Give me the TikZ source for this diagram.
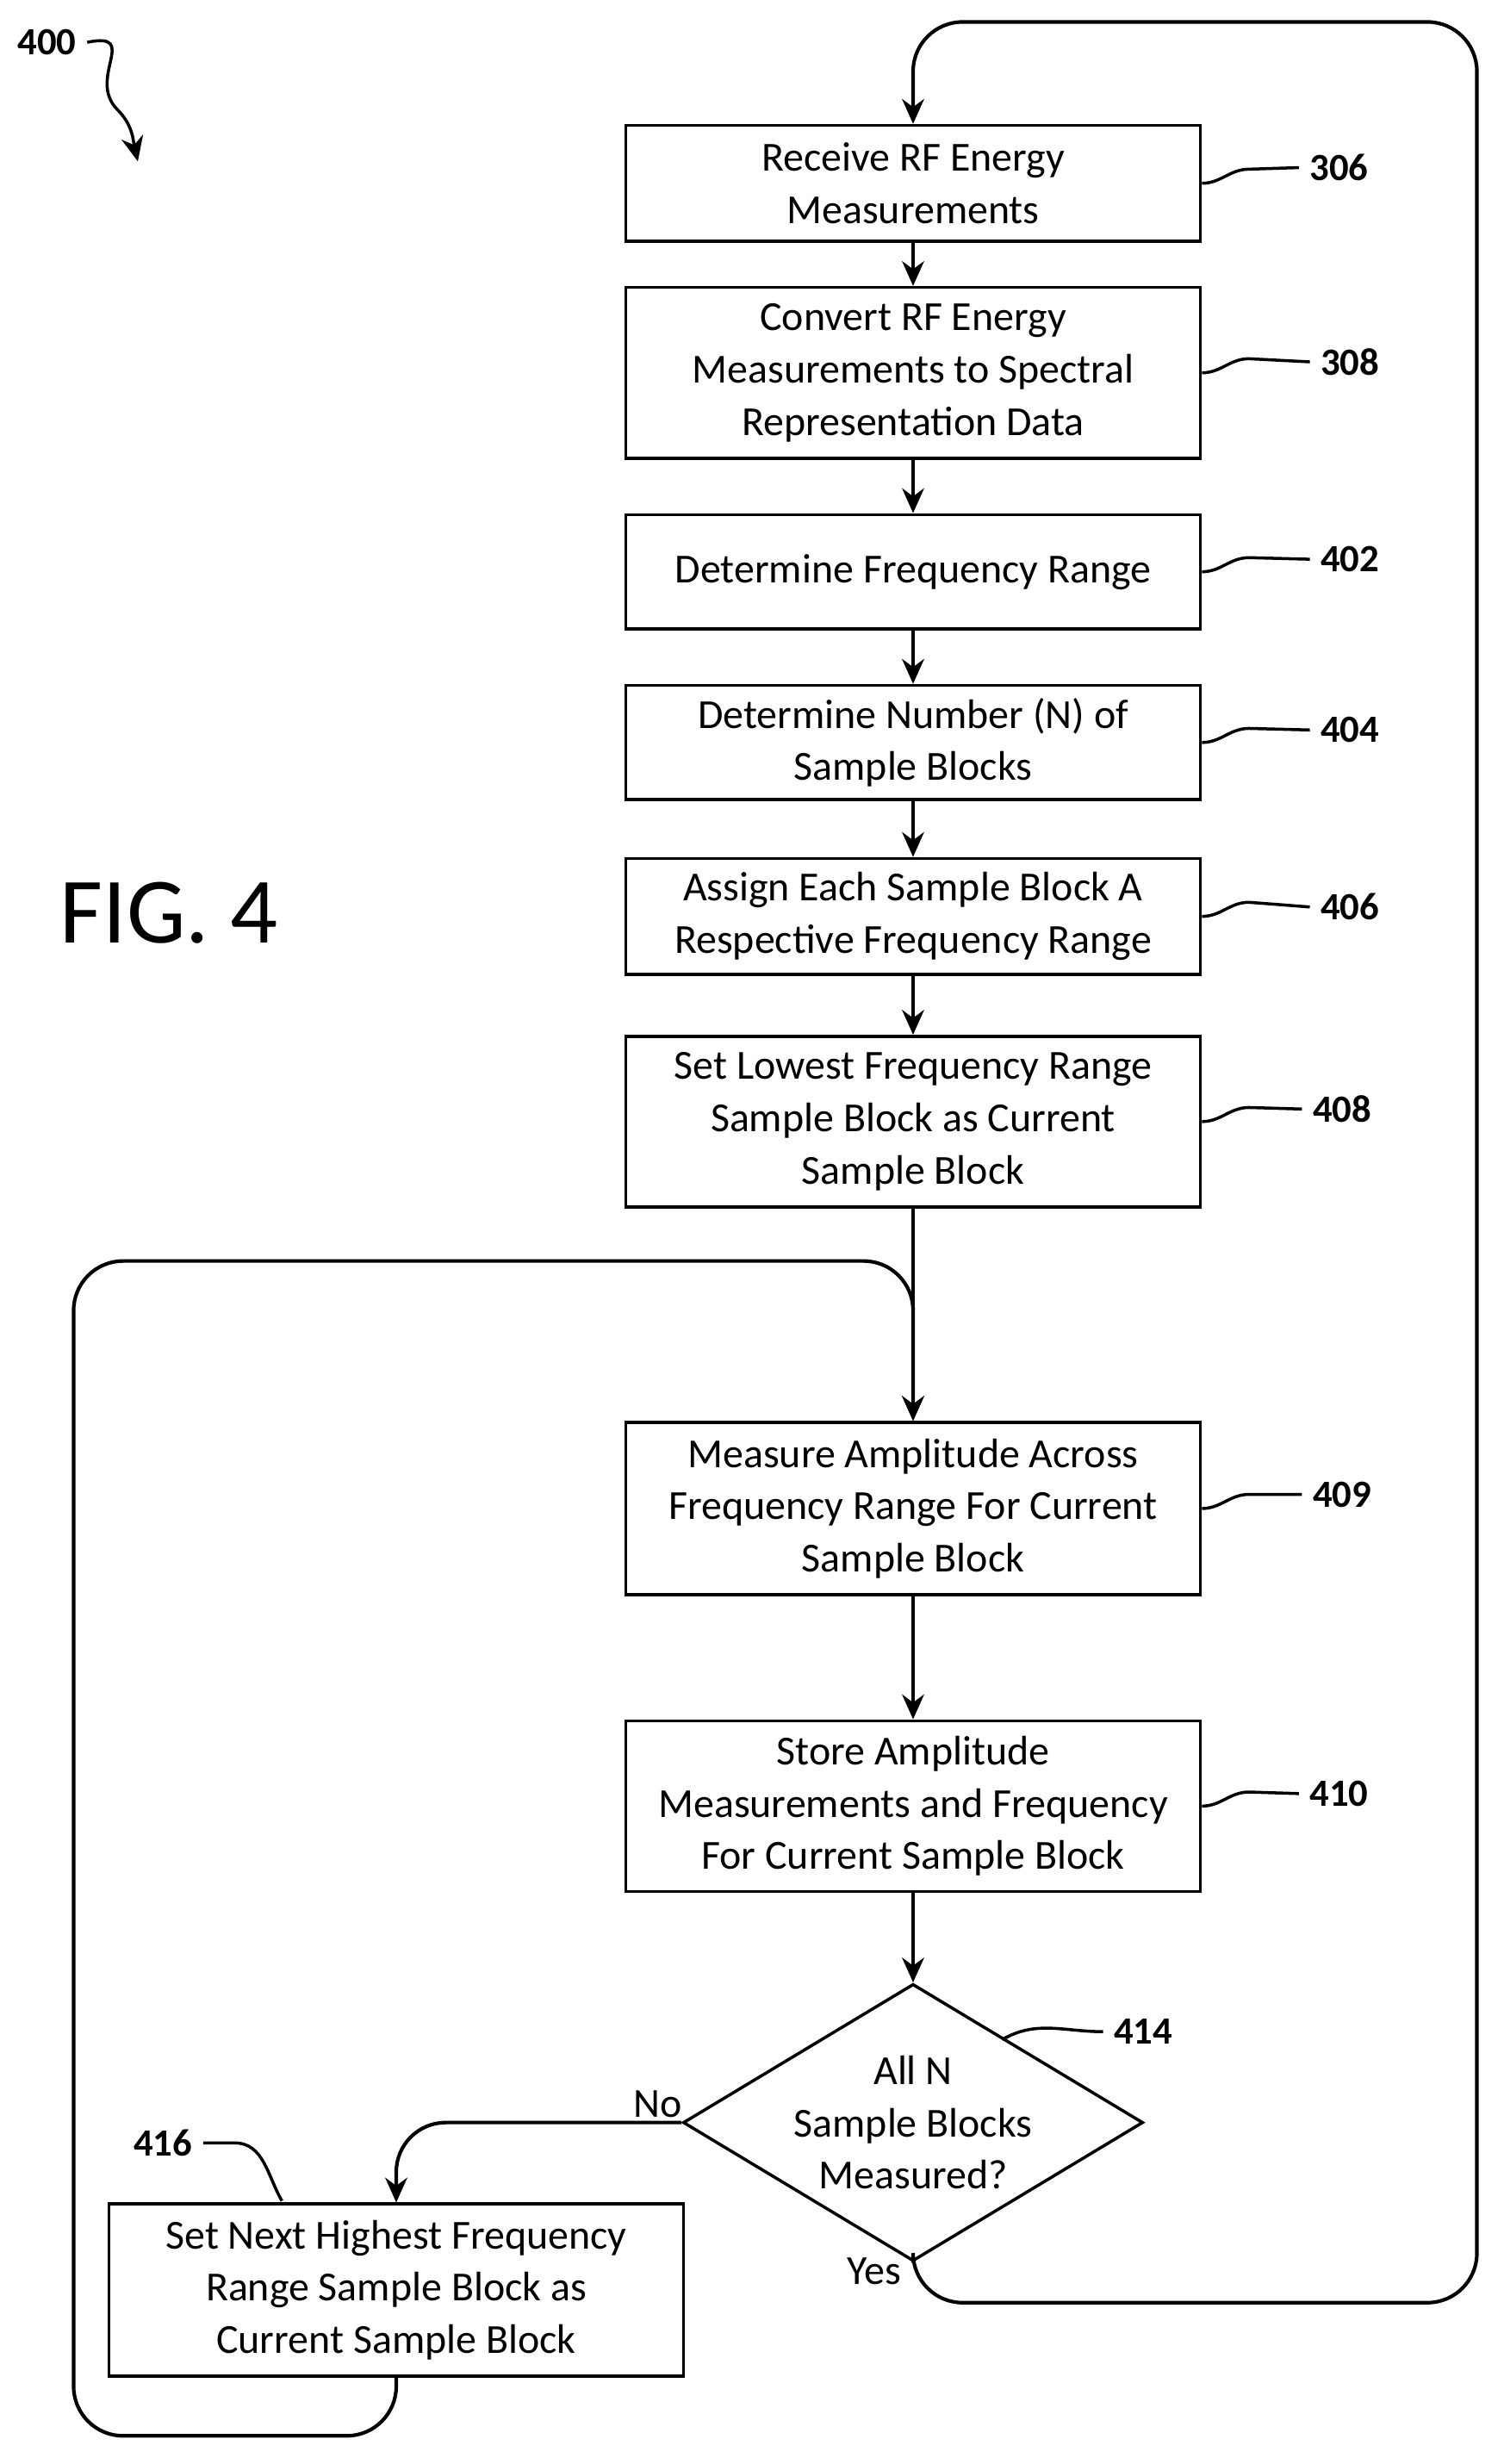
\documentclass[tikz,border=0pt]{standalone}
\usepackage{fontspec}
\setmainfont{Carlito}
\usetikzlibrary{shapes.geometric,arrows.meta}
\begin{document}
\begin{tikzpicture}[x=0.02cm,y=-0.02cm,
    line width=1.3pt, >={Stealth[length=9pt,width=8pt]},
    block/.style={rectangle, draw, minimum width=7.34cm, align=center,
      font=\fontsize{15}{19}\selectfont, line width=1.1pt},
    decide/.style={diamond, draw, minimum width=5.3cm, minimum height=3.2cm, align=center,
      font=\fontsize{15}{19}\selectfont, aspect=1.66, inner sep=0pt, line width=1.1pt},
    ref/.style={font=\bfseries\fontsize{14}{16}\selectfont},
    lead/.style={line width=1.1pt}]
  \useasboundingbox (0,0) rectangle (960,1573);

  \node[block, minimum height=1.48cm] (b306) at (583,117) {Receive RF Energy\\Measurements};
  \node[block, minimum height=2.18cm] (b308) at (583,238) {Convert RF Energy\\Measurements to Spectral\\Representation Data};
  \node[block, minimum height=1.46cm] (b402) at (583,365) {Determine Frequency Range};
  \node[block, minimum height=1.46cm] (b404) at (583,474) {Determine Number (N) of\\Sample Blocks};
  \node[block, minimum height=1.48cm] (b406) at (583,585) {Assign Each Sample Block A\\Respective Frequency Range};
  \node[block, minimum height=2.18cm] (b408) at (583,716) {Set Lowest Frequency Range\\Sample Block as Current\\Sample Block};
  \node[block, minimum height=2.2cm] (b409) at (583,963) {Measure Amplitude Across\\Frequency Range For Current\\Sample Block};
  \node[block, minimum height=2.18cm] (b410) at (583,1153) {Store Amplitude\\Measurements and Frequency\\For Current Sample Block};
  \node[decide] (d414) at (583,1355) {All N\\Sample Blocks\\Measured?};
  \node[block, minimum height=2.2cm] (b416) at (253,1462) {Set Next Highest Frequency\\Range Sample Block as\\Current Sample Block};

  % reference numerals
  \node[ref] (l306) at (855,107) {306};
  \node[ref] (l308) at (862,231) {308};
  \node[ref] (l402) at (862,357) {402};
  \node[ref] (l404) at (862,466) {404};
  \node[ref] (l406) at (862,579) {406};
  \node[ref] (l408) at (857,708) {408};
  \node[ref] (l409) at (857,954) {409};
  \node[ref] (l410) at (855,1145) {410};
  \node[ref] (l414) at (730,1297) {414};
  \node[ref] (l416) at (104,1368) {416};
  \node[ref] (l400) at (30,27) {400};
  \node[font=\fontsize{34}{40}\selectfont] (fig) at (108,583) {FIG. 4};

  \foreach \n in {306,308,402,404,406,408,409,410}
    \draw[lead] (b\n.east) to[out=0,in=180] ++(30,-9) -- (l\n.west);
  \draw[lead] (640,1302) to[out=30,in=180] (l414.west);
  \draw[lead] (l416.east) -- ++(20,0) to[out=0,in=120] (180,1405);
  \draw[lead,->] (l400.east) .. controls (90,20) and (55,50) .. (75,70)
    .. controls (85,80) and (85,90) .. (88,103);

  % main flow
  \draw[->] (b306) -- (b308);
  \draw[->] (b308) -- (b402);
  \draw[->] (b402) -- (b404);
  \draw[->] (b404) -- (b406);
  \draw[->] (b406) -- (b408);
  \draw[->] (b408) -- (b409);
  \draw[->] (b409) -- (b410);
  \draw[->] (b410) -- (d414);
  \draw[->, rounded corners=18pt] (d414.west) -| (b416.north);
  \node at (420,1343) {\fontsize{15}{18}\selectfont No};
  \draw[->, rounded corners=18pt] (d414.south) -- (583,1470) -- (943,1470) -- (943,14) -- (583,14) -- (b306.north);
  \node at (558,1450) {\fontsize{15}{18}\selectfont Yes};
  \draw[->, rounded corners=18pt] (b416.south) -- (253,1555) -- (47,1555) -- (47,805) -- (583,805) -- (b409.north);
\end{tikzpicture}
\end{document}
